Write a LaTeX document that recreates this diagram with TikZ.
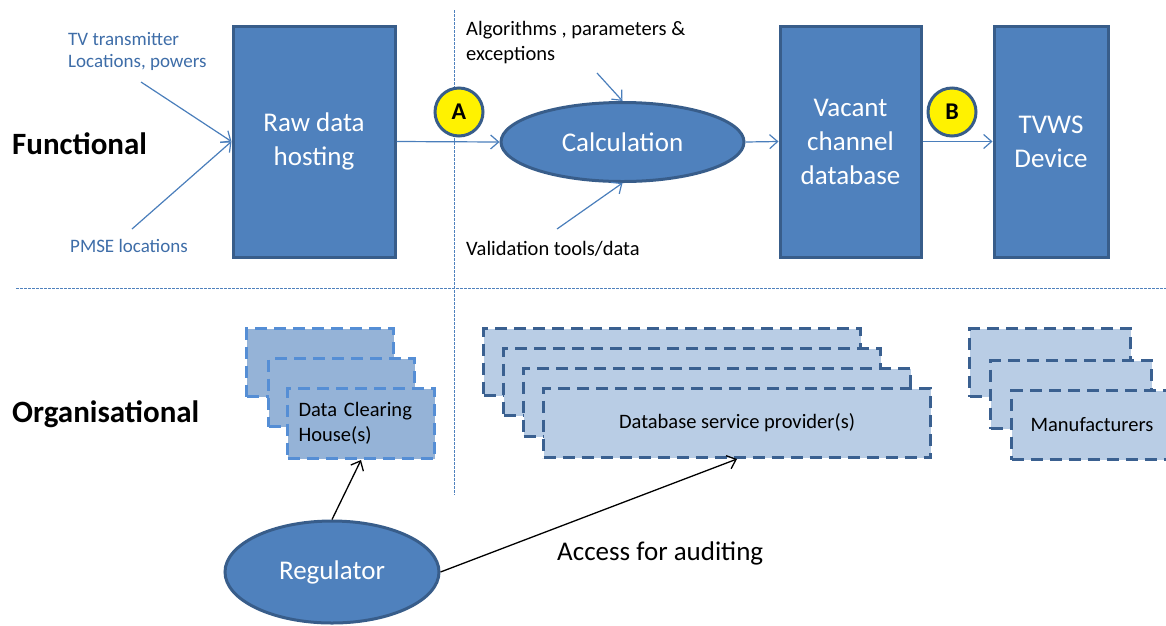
\documentclass[tikz,border=0pt]{standalone}
\usepackage{fontspec}
\setmainfont{Carlito}
\usetikzlibrary{arrows.meta,shapes.geometric}

\definecolor{boxfill}{HTML}{4F81BD}
\definecolor{boxline}{HTML}{385D8A}
\definecolor{flowline}{HTML}{4A7EBB}
\definecolor{inputtext}{HTML}{3E6DA8}
\definecolor{chfill}{HTML}{95B3D7}
\definecolor{chline}{HTML}{558ED5}
\definecolor{orgfill}{HTML}{B9CDE5}
\definecolor{orgline}{HTML}{3A6090}
\definecolor{sepline}{HTML}{4F81BD}

\tikzset{
  block/.style={rectangle, draw=boxline, fill=boxfill, line width=3pt,
    text=white, align=center, inner sep=0pt,
    font=\fontsize{27}{34}\selectfont},
  process/.style={ellipse, draw=boxline, fill=boxfill, line width=3pt,
    text=white, align=center, inner sep=0pt,
    font=\fontsize{27}{34}\selectfont},
  marker/.style={circle, draw=boxline, fill=yellow, line width=3pt,
    minimum size=48pt, inner sep=0pt, font=\bfseries\fontsize{24}{28}\selectfont},
  flow/.style={draw=flowline, line width=1.2pt,
    -{Straight Barb[length=8pt,width=14pt]}},
  link/.style={draw=black, line width=1.3pt,
    -{Straight Barb[length=8pt,width=14pt]}},
  stackbox/.style={rectangle, line width=3pt, dash pattern=on 12pt off 7pt,
    inner sep=0pt, anchor=north west},
  chbox/.style={stackbox, draw=chline, fill=chfill},
  orgbox/.style={stackbox, draw=orgline, fill=orgfill},
  separator/.style={draw=sepline, line width=1pt, dash pattern=on 2.5pt off 1.5pt},
  rowlabel/.style={font=\bfseries\fontsize{31}{36}\selectfont, anchor=base west, inner sep=0pt},
  inputlabel/.style={text=inputtext, align=left, inner sep=0pt,
    font=\fontsize{19}{22}\selectfont},
  note/.style={text=black, align=left, inner sep=0pt,
    font=\fontsize{20.5}{25}\selectfont},
  orgtext/.style={font=\fontsize{20.5}{25}\selectfont},
}

\begin{document}
\begin{tikzpicture}[x=1pt, y=-1pt]
\useasboundingbox (0,0) rectangle (1166,625);
\clip (0,0) rectangle (1166,625);

% section separators
\coordinate (vtop) at (454,10);
\coordinate (vbot) at (454,495);
\coordinate (hleft) at (16,288);
\coordinate (hright) at (1166,288);
\draw[separator] (vtop) -- (vbot);
\draw[separator] (hleft) -- (hright);

% row labels
\node[rowlabel] (functional) at (12,154) {Functional};
\node[rowlabel] (organisational) at (12,422) {Organisational};

% functional chain
\node[block, minimum width=162pt, minimum height=231pt] (raw) at (314,141.5) {Raw data\\hosting};
\node[process, minimum width=243pt, minimum height=79pt] (calc) at (622.5,142) {Calculation};
\node[block, minimum width=141pt, minimum height=231pt] (vacant) at (850.5,141.5) {Vacant\\channel\\database};
\node[block, minimum width=114pt, minimum height=231pt] (tvws) at (1051,141.5) {TVWS\\Device};

\node[marker] (ifa) at (459,112) {A};
\node[marker] (ifb) at (952,112) {B};

% inputs (base anchor sits on the last line of a multi-line label)
\node[inputlabel, anchor=base west] (tvtx) at (68,67) {TV transmitter\\Locations, powers};
\node[inputlabel, anchor=base west] (pmse) at (70,252) {PMSE locations};
\node[note, anchor=base west] (algo) at (466,60) {Algorithms ,  parameters \&\\exceptions};
\node[note, anchor=base west] (valid) at (466,255) {Validation tools/data};

\coordinate (tvtxend) at (141,82);
\coordinate (pmseend) at (132,229);
\coordinate (algoend) at (597,73);
\coordinate (validend) at (557,229);

\draw[flow] (tvtxend) -- (raw.west);
\draw[flow] (pmseend) -- (raw.west);
\draw[flow] (raw.east) -- (calc.west);
\draw[flow] (algoend) -- (calc.north);
\draw[flow] (validend) -- (calc.south);
\draw[flow] (calc.east) -- (vacant.west);
\draw[flow] (vacant.east) -- (tvws.west);

% organisations: data clearing houses
\node[chbox, minimum width=147pt, minimum height=68pt] (dch1) at (245,327) {};
\node[chbox, minimum width=146pt, minimum height=68pt] (dch2) at (267,357) {};
\node[chbox, minimum width=147pt, minimum height=70pt, text width=125pt, align=left, orgtext] (dch3) at (286,387) {Data Clearing\\House(s)};

% database service providers
\node[orgbox, minimum width=377pt, minimum height=67pt] (dsp1) at (482,327) {};
\node[orgbox, minimum width=377pt, minimum height=67pt] (dsp2) at (502,347) {};
\node[orgbox, minimum width=387pt, minimum height=68pt] (dsp3) at (522,367) {};
\node[orgbox, minimum width=387pt, minimum height=69pt, orgtext] (dsp4) at (542,387) {Database service provider(s)};

% manufacturers
\node[orgbox, minimum width=161pt, minimum height=68pt] (man1) at (968,327) {};
\node[orgbox, minimum width=161pt, minimum height=68pt] (man2) at (989,359) {};
\node[orgbox, minimum width=161pt, minimum height=69pt, orgtext] (man3) at (1010,389) {Manufacturers};

% regulator
\node[process, minimum width=214pt, minimum height=102pt] (reg) at (332,572) {Regulator};
\draw[link] (reg.north) -- (dch3.south);
\draw[link] (reg.east) -- (dsp4.south);
\node[anchor=base west, inner sep=0pt, font=\fontsize{27}{33}\selectfont] (audit) at (557,560) {Access for auditing};
\end{tikzpicture}
\end{document}
